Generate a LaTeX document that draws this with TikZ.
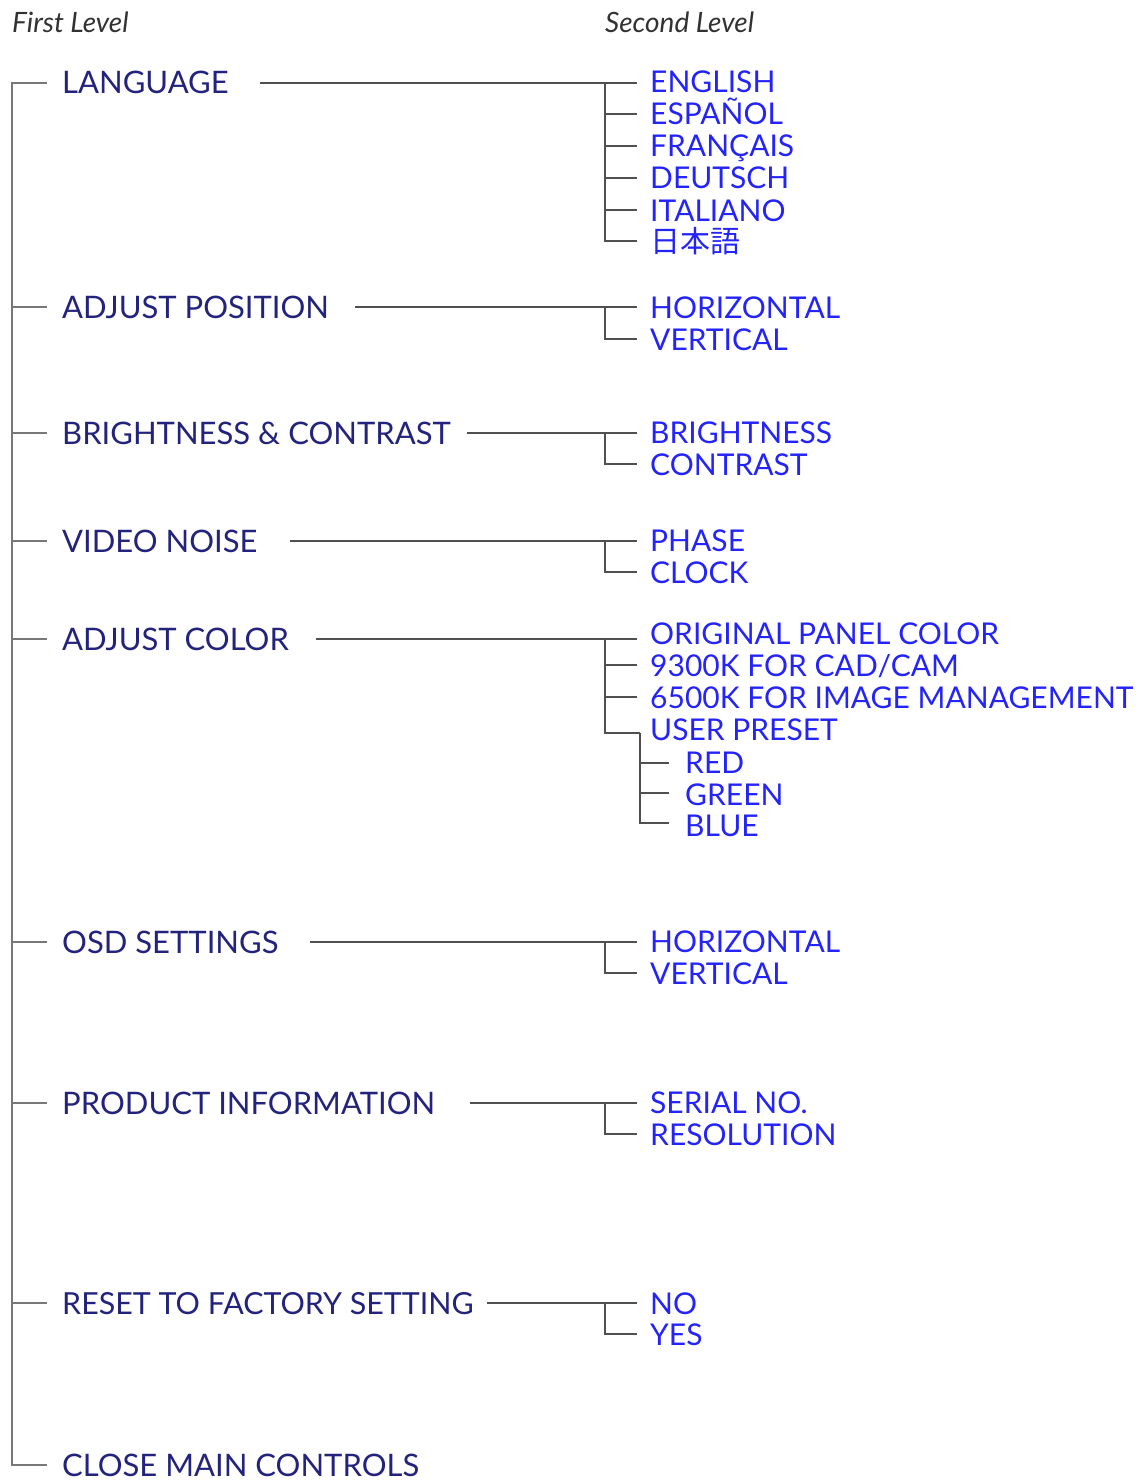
\documentclass[tikz,border=0pt]{standalone}
\usepackage{fontspec}
\setmainfont{Lato}
\newfontfamily\cjk{Noto Sans CJK JP}
\definecolor{navy}{RGB}{35,35,125}
\definecolor{brightblue}{RGB}{35,35,250}
\definecolor{linegray}{RGB}{80,80,80}
\definecolor{trunkgray}{RGB}{120,120,120}
\definecolor{hdrgray}{RGB}{50,50,50}
\begin{document}
\begin{tikzpicture}[x=1pt,y=-1pt,
  lvlone/.style={anchor=base west, inner sep=0pt, text=navy, font=\fontsize{31}{31}\selectfont},
  lvltwo/.style={anchor=base west, inner sep=0pt, text=brightblue, font=\fontsize{30}{30}\selectfont},
  hdr/.style={anchor=base west, inner sep=0pt, text=hdrgray, font=\itshape\fontsize{28}{28}\selectfont},
  conn/.style={draw=linegray, line width=1.6pt},
  trunk/.style={draw=trunkgray, line width=2pt}]
\useasboundingbox (0,0) rectangle (1137,1482);
% headers
\node[hdr] (h1) at (12,33) {First Level};
\node[hdr] (h2) at (605,33) {Second Level};
% trunk
\coordinate (t1) at (12,83);   \coordinate (e1) at (47,83);
\coordinate (t2) at (12,307);  \coordinate (e2) at (47,307);
\coordinate (t3) at (12,433);  \coordinate (e3) at (47,433);
\coordinate (t4) at (12,541);  \coordinate (e4) at (47,541);
\coordinate (t5) at (12,639);  \coordinate (e5) at (47,639);
\coordinate (t6) at (12,942);  \coordinate (e6) at (47,942);
\coordinate (t7) at (12,1103); \coordinate (e7) at (47,1103);
\coordinate (t8) at (12,1303); \coordinate (e8) at (47,1303);
\coordinate (t9) at (12,1465); \coordinate (e9) at (47,1465);
\draw[trunk] (e1) -- (t1) -- (t9) -- (e9);
\foreach \i in {2,...,8} \draw[trunk] (t\i) -- (e\i);
% first level
\node[lvlone] (m1) at (62,94) {LANGUAGE};
\node[lvlone] (m2) at (62,318) {ADJUST POSITION};
\node[lvlone] (m3) at (62,444) {BRIGHTNESS \& CONTRAST};
\node[lvlone] (m4) at (62,552) {VIDEO NOISE};
\node[lvlone] (m5) at (62,650) {ADJUST COLOR};
\node[lvlone] (m6) at (62,953) {OSD SETTINGS};
\node[lvlone] (m7) at (62,1114) {PRODUCT INFORMATION};
\node[lvlone, font=\fontsize{30.4}{31}\selectfont] (m8) at (62,1314) {RESET TO FACTORY SETTING};
\node[lvlone] (m9) at (62,1476) {CLOSE MAIN CONTROLS};
% ---- LANGUAGE
\coordinate (s1) at (260,83);
\coordinate (j1a) at (605,83); \coordinate (k1a) at (637,83);
\coordinate (j1b) at (605,114); \coordinate (k1b) at (637,114);
\coordinate (j1c) at (605,146); \coordinate (k1c) at (637,146);
\coordinate (j1d) at (605,178); \coordinate (k1d) at (637,178);
\coordinate (j1e) at (605,210); \coordinate (k1e) at (637,210);
\coordinate (j1f) at (605,241); \coordinate (k1f) at (637,241);
\draw[conn] (s1) -- (k1a);
\draw[conn] (j1a) -- (j1f) -- (k1f);
\foreach \c in {b,c,d,e} \draw[conn] (j1\c) -- (k1\c);
\node[lvltwo] (c1a) at (650,93) {ENGLISH};
\node[lvltwo] (c1b) at (650,125) {ESPAÑOL};
\node[lvltwo] (c1c) at (650,157) {FRANÇAIS};
\node[lvltwo] (c1d) at (650,189) {DEUTSCH};
\node[lvltwo] (c1e) at (650,221) {ITALIANO};
\node[lvltwo, font=\cjk\fontsize{30}{30}\selectfont] (c1f) at (650,252) {日本語};
% ---- ADJUST POSITION
\coordinate (s2) at (355,307);
\coordinate (j2a) at (605,307); \coordinate (k2a) at (637,307);
\coordinate (j2b) at (605,339); \coordinate (k2b) at (637,339);
\draw[conn] (s2) -- (k2a);
\draw[conn] (j2a) -- (j2b) -- (k2b);
\node[lvltwo] (c2a) at (650,318) {HORIZONTAL};
\node[lvltwo] (c2b) at (650,350) {VERTICAL};
% ---- BRIGHTNESS & CONTRAST
\coordinate (s3) at (467,433);
\coordinate (j3a) at (605,433); \coordinate (k3a) at (637,433);
\coordinate (j3b) at (605,464); \coordinate (k3b) at (637,464);
\draw[conn] (s3) -- (k3a);
\draw[conn] (j3a) -- (j3b) -- (k3b);
\node[lvltwo] (c3a) at (650,443) {BRIGHTNESS};
\node[lvltwo] (c3b) at (650,475) {CONTRAST};
% ---- VIDEO NOISE
\coordinate (s4) at (290,541);
\coordinate (j4a) at (605,541); \coordinate (k4a) at (637,541);
\coordinate (j4b) at (605,572); \coordinate (k4b) at (637,572);
\draw[conn] (s4) -- (k4a);
\draw[conn] (j4a) -- (j4b) -- (k4b);
\node[lvltwo] (c4a) at (650,551) {PHASE};
\node[lvltwo] (c4b) at (650,583) {CLOCK};
% ---- ADJUST COLOR
\coordinate (s5) at (316,639);
\coordinate (j5a) at (605,639); \coordinate (k5a) at (637,639);
\coordinate (j5b) at (605,665); \coordinate (k5b) at (637,665);
\coordinate (j5c) at (605,697); \coordinate (k5c) at (637,697);
\coordinate (j5d) at (605,733); \coordinate (k5d) at (640,733);
\draw[conn] (s5) -- (k5a);
\draw[conn] (j5a) -- (j5d) -- (k5d);
\foreach \c in {b,c} \draw[conn] (j5\c) -- (k5\c);
\node[lvltwo] (c5a) at (650,644) {ORIGINAL PANEL COLOR};
\node[lvltwo] (c5b) at (650,676) {9300K FOR CAD/CAM};
\node[lvltwo] (c5c) at (650,708) {6500K FOR IMAGE MANAGEMENT};
\node[lvltwo] (c5d) at (650,740) {USER PRESET};
\coordinate (u1) at (640,763); \coordinate (v1) at (669,763);
\coordinate (u2) at (640,793); \coordinate (v2) at (669,793);
\coordinate (u3) at (640,823); \coordinate (v3) at (669,823);
\draw[conn] (k5d) -- (u3) -- (v3);
\foreach \c in {1,2} \draw[conn] (u\c) -- (v\c);
\node[lvltwo] (g1) at (685,773) {RED};
\node[lvltwo] (g2) at (685,805) {GREEN};
\node[lvltwo] (g3) at (685,836) {BLUE};
% ---- OSD SETTINGS
\coordinate (s6) at (310,942);
\coordinate (j6a) at (605,942); \coordinate (k6a) at (637,942);
\coordinate (j6b) at (605,973); \coordinate (k6b) at (637,973);
\draw[conn] (s6) -- (k6a);
\draw[conn] (j6a) -- (j6b) -- (k6b);
\node[lvltwo] (c6a) at (650,952) {HORIZONTAL};
\node[lvltwo] (c6b) at (650,984) {VERTICAL};
% ---- PRODUCT INFORMATION
\coordinate (s7) at (470,1103);
\coordinate (j7a) at (605,1103); \coordinate (k7a) at (637,1103);
\coordinate (j7b) at (605,1134); \coordinate (k7b) at (637,1134);
\draw[conn] (s7) -- (k7a);
\draw[conn] (j7a) -- (j7b) -- (k7b);
\node[lvltwo] (c7a) at (650,1113) {SERIAL NO.};
\node[lvltwo] (c7b) at (650,1145) {RESOLUTION};
% ---- RESET
\coordinate (s8) at (487,1303);
\coordinate (j8a) at (605,1303); \coordinate (k8a) at (637,1303);
\coordinate (j8b) at (605,1334); \coordinate (k8b) at (637,1334);
\draw[conn] (s8) -- (k8a);
\draw[conn] (j8a) -- (j8b) -- (k8b);
\node[lvltwo] (c8a) at (650,1314) {NO};
\node[lvltwo] (c8b) at (650,1345) {YES};
\end{tikzpicture}
\end{document}
